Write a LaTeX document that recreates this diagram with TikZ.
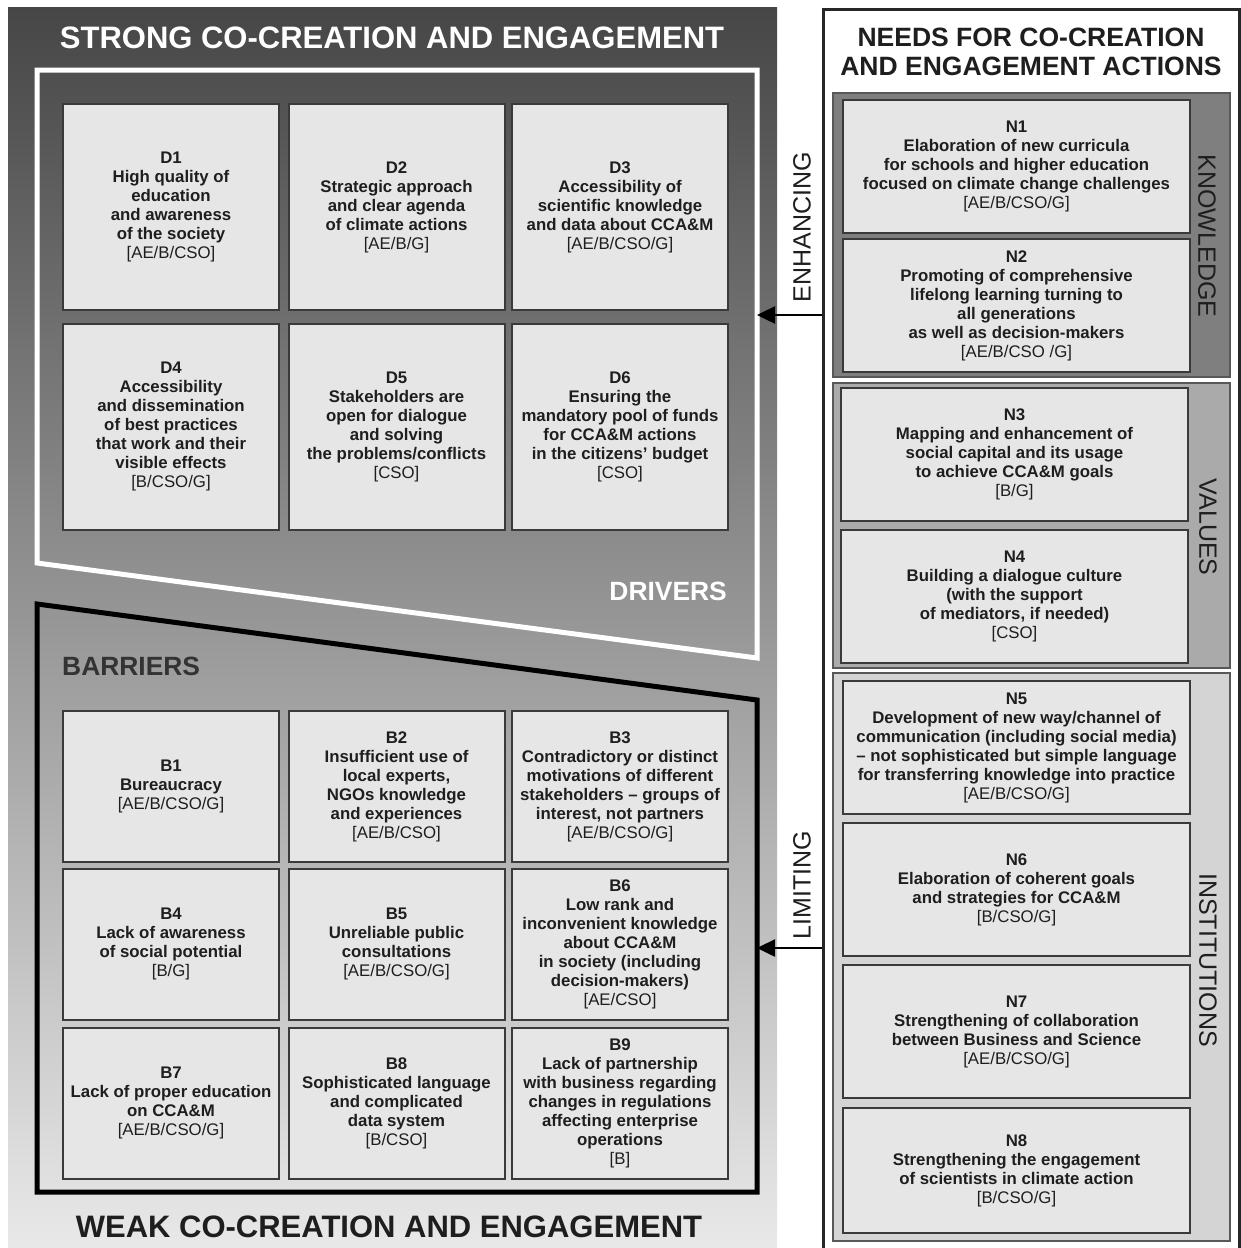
\documentclass[tikz,border=0pt]{standalone}
\usepackage{fontspec}
\setmainfont{Liberation Sans}
\usetikzlibrary{arrows.meta}

\definecolor{paneltop}{HTML}{464646}
\definecolor{panelbottom}{HTML}{E9E9E9}
\definecolor{cardfill}{HTML}{E6E6E6}
\definecolor{cardline}{HTML}{3A3A3A}
\definecolor{knowfill}{HTML}{7F7F7F}
\definecolor{valfill}{HTML}{AAAAAA}
\definecolor{instfill}{HTML}{D4D4D4}
\definecolor{ink}{HTML}{1E1E1E}

\newcommand{\actors}[1]{{\mdseries[#1]}}

\begin{document}
\begin{tikzpicture}[x=1pt,y=-1pt,
		card/.style={draw=cardline,line width=2pt,fill=cardfill,align=center,text=ink,inner sep=0pt,
			font=\bfseries\fontsize{16.8}{19}\selectfont},
		dcard/.style={card,minimum width=216pt,minimum height=206pt},
		bcard/.style={card,minimum width=216pt,minimum height=151pt},
		ncard/.style={card,minimum width=347pt,minimum height=133pt},
		group/.style={draw=cardline!85,line width=2pt},
		heading/.style={font=\bfseries\fontsize{31}{31}\selectfont,inner sep=0pt,anchor=base},
		tag/.style={font=\bfseries\fontsize{26.4}{26}\selectfont,inner sep=0pt},
		side/.style={font=\fontsize{25}{25}\selectfont,inner sep=0pt,text=ink},
		push/.style={line width=2.5pt,-{Triangle[length=18pt,width=17pt]}}]
	\useasboundingbox (0,0) rectangle (1240,1248);

	\shade[top color=paneltop,bottom color=panelbottom] (8,7) rectangle (777,1250);
	\node [heading,text=white] (strong) at (392,48) {STRONG CO-CREATION AND ENGAGEMENT};
	\node [heading,text=ink] (weak) at (389,1237) {WEAK CO-CREATION AND ENGAGEMENT};

	\draw[white,line width=5pt] (37,70) -- (757,70) -- (757,658) -- (37,563) -- cycle;
	\draw[black,line width=5pt] (37,604) -- (757,700) -- (757,1192) -- (37,1192) -- cycle;
	\node [tag,text=white,anchor=base east] (drivers) at (727,600) {DRIVERS};
	\node [tag,text=black!80,anchor=base west] (barriers) at (62,675) {BARRIERS};

	\node [dcard] (d1) at (171,207) {D1\\High quality of\\education\\and awareness\\of the society\\\actors{AE/B/CSO}};
	\node [dcard] (d2) at (396.5,207) {D2\\Strategic approach\\and clear agenda\\of climate actions\\\actors{AE/B/G}};
	\node [dcard] (d3) at (620,207) {D3\\Accessibility of\\scientific knowledge\\and data about CCA\&M\\\actors{AE/B/CSO/G}};
	\node [dcard] (d4) at (171,426.5) {D4\\Accessibility\\and dissemination\\of best practices\\that work and their\\visible effects\\\actors{B/CSO/G}};
	\node [dcard] (d5) at (396.5,426.5) {D5\\Stakeholders are\\open for dialogue\\and solving\\the problems/conflicts\\\actors{CSO}};
	\node [dcard] (d6) at (620,426.5) {D6\\Ensuring the\\mandatory pool of funds\\for CCA\&M actions\\in the citizens' budget\\\actors{CSO}};

	\node [bcard] (b1) at (171,786.5) {B1\\Bureaucracy\\\actors{AE/B/CSO/G}};
	\node [bcard] (b2) at (396.5,786.5) {B2\\Insufficient use of\\local experts,\\NGOs knowledge\\and experiences\\\actors{AE/B/CSO}};
	\node [bcard] (b3) at (620,786.5) {B3\\Contradictory or distinct\\motivations of different\\stakeholders – groups of\\interest, not partners\\\actors{AE/B/CSO/G}};
	\node [bcard] (b4) at (171,944) {B4\\Lack of awareness\\of social potential\\\actors{B/G}};
	\node [bcard] (b5) at (396.5,944) {B5\\Unreliable public\\consultations\\\actors{AE/B/CSO/G}};
	\node [bcard] (b6) at (620,944) {B6\\Low rank and\\inconvenient knowledge\\about CCA\&M\\in society (including\\decision-makers)\\\actors{AE/CSO}};
	\node [bcard] (b7) at (171,1103) {B7\\Lack of proper education\\on CCA\&M\\\actors{AE/B/CSO/G}};
	\node [bcard] (b8) at (396.5,1103) {B8\\Sophisticated language\\and complicated\\data system\\\actors{B/CSO}};
	\node [bcard] (b9) at (620,1103) {B9\\Lack of partnership\\with business regarding\\changes in regulations\\affecting enterprise\\operations\\\actors{B}};

	\node [draw=black!85,line width=2.5pt,fill=white,minimum width=416pt,minimum height=1260pt,anchor=north west] (needs) at (822,8) {};
	\node [font=\bfseries\fontsize{26.5}{29}\selectfont,align=center,inner sep=0pt,text=ink] (needstitle) at (1031,52) {NEEDS FOR CO-CREATION\\AND ENGAGEMENT ACTIONS};

	\draw[group,fill=knowfill] (833,93) rectangle (1230,377);
	\draw[group,fill=valfill] (833,383) rectangle (1230,668);
	\draw[group,fill=instfill] (833,673) rectangle (1230,1241);
	\node [side,rotate=-90] (know) at (1207,236) {KNOWLEDGE};
	\node [side,rotate=-90] (values) at (1208,527) {VALUES};
	\node [side,rotate=-90] (inst) at (1208,960) {INSTITUTIONS};

	\node [ncard] (n1) at (1016.5,166) {N1\\Elaboration of  new curricula\\for schools and higher education\\focused on climate change challenges\\\actors{AE/B/CSO/G}};
	\node [ncard] (n2) at (1016.5,305.5) {N2\\Promoting of comprehensive\\lifelong learning turning to\\all generations\\as well as decision-makers\\\actors{AE/B/CSO /G}};
	\node [ncard] (n3) at (1014.5,454) {N3\\Mapping and enhancement of\\social capital and its usage\\to achieve CCA\&M goals\\\actors{B/G}};
	\node [ncard] (n4) at (1014.5,596) {N4\\Building a dialogue culture\\(with the support\\of mediators, if needed)\\\actors{CSO}};
	\node [ncard] (n5) at (1016.5,747.5) {N5\\Development of new way/channel of\\communication (including social media)\\– not sophisticated but simple language\\for transferring knowledge into practice\\\actors{AE/B/CSO/G}};
	\node [ncard] (n6) at (1016.5,889.5) {N6\\Elaboration of coherent goals\\and strategies for CCA\&M\\\actors{B/CSO/G}};
	\node [ncard] (n7) at (1016.5,1031.5) {N7\\Strengthening of collaboration\\between Business and Science\\\actors{AE/B/CSO/G}};
	\node [ncard,minimum height=125pt] (n8) at (1016.5,1170.5) {N8\\Strengthening the engagement\\of scientists  in climate action\\\actors{B/CSO/G}};

	\coordinate (enh) at (757,315);
	\coordinate (lim) at (757,948);
	\draw[push] (needs.west |- enh) -- (enh);
	\draw[push] (needs.west |- lim) -- (lim);
	\node [side,rotate=90] (enhlabel) at (802,227) {ENHANCING};
	\node [side,rotate=90] (limlabel) at (802,885) {LIMITING};
\end{tikzpicture}
\end{document}
